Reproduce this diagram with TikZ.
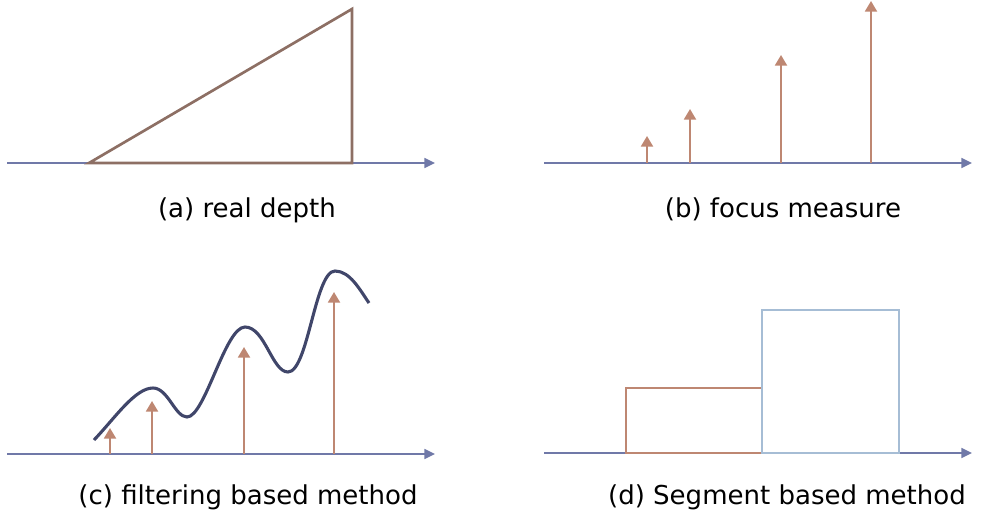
\documentclass[tikz,border=0pt]{standalone}
\usepackage{fontspec}
\setmainfont{DejaVu Sans}
\usetikzlibrary{arrows.meta}
\definecolor{axisblue}{HTML}{7079A8}
\definecolor{stembrown}{HTML}{BE8772}
\definecolor{rampbrown}{HTML}{8D6F64}
\definecolor{segblue}{HTML}{A6BDD5}
\definecolor{curvenavy}{HTML}{40466A}

\begin{document}
\begin{tikzpicture}[
			x=0.025cm, y=-0.025cm,
			axis/.style={draw=axisblue, line width=1.2pt, -{Triangle[length=7.5pt, width=7pt]}},
			stem/.style={draw=stembrown, line width=1.4pt, -{Triangle[length=7.5pt, width=8.5pt]}},
			caption/.style={font=\fontsize{18.5}{20}\selectfont, inner sep=0pt}
			]
			\useasboundingbox (0,0) rectangle (981,520);

			% axes
			\foreach \n/\xa/\xb/\y in {a/7/435/163, b/544/972/163, c/7/435/454, d/544/972/453} {
				\coordinate (\n0) at (\xa,\y);
				\coordinate (\n1) at (\xb,\y);
				\draw[axis] (\n0) -- (\n1);
			}

			% (a) real depth
			\coordinate (ra) at (89,163);
			\coordinate (rb) at (352,163);
			\coordinate (rc) at (352,9);
			\draw[rampbrown, line width=1.9pt] (ra) -- (rc) -- (rb) -- cycle;

			% (b) focus measure
			\foreach \x/\h [count=\i] in {647/136, 690/109, 781/55, 871/1} {
				\coordinate (fb\i) at (\x,163);
				\coordinate (ft\i) at (\x,\h);
				\draw[stem] (fb\i) -- (ft\i);
			}

			% (c) filtering based method
			\draw[curvenavy, line width=2.2pt] (94,440)
				.. controls (115,418) and (135,388) .. (153,388)
				.. controls (168,388) and (175,417) .. (187,417)
				.. controls (205,417) and (225,327) .. (245,327)
				.. controls (265,327) and (272,372) .. (288,372)
				.. controls (308,372) and (315,271) .. (335,271)
				.. controls (350,271) and (360,290) .. (369,303);
			\foreach \x/\h [count=\i] in {110/428, 152/401, 244/347, 334/292} {
				\coordinate (cb\i) at (\x,454);
				\coordinate (ct\i) at (\x,\h);
				\draw[stem] (cb\i) -- (ct\i);
			}

			% (d) Segment based method
			\draw[stembrown, line width=1.7pt] (762,453) -- (626,453) -- (626,388) -- (762,388);
			\draw[segblue, line width=1.7pt] (762,453) rectangle (899,310);

			\node[caption] (capa) at (247,210) {(a) real depth};
			\node[caption] (capb) at (783,209) {(b) focus measure};
			\node[caption] (capc) at (248,497) {(c) filtering based method};
			\node[caption] (capd) at (787,497) {(d) Segment based method};

		\end{tikzpicture}
\end{document}
